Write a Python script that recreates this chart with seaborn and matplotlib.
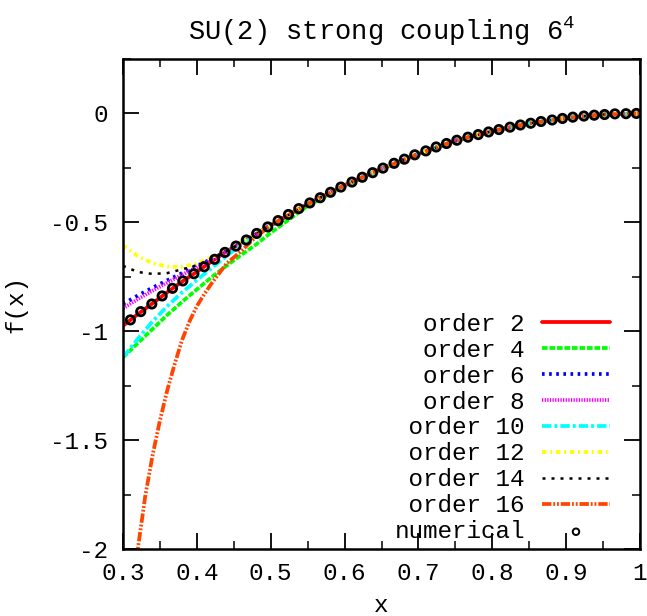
import numpy as np
import pandas as pd
import matplotlib
matplotlib.use("Agg")
import matplotlib.pyplot as plt
import seaborn as sns
from matplotlib.ticker import MultipleLocator

# ---------------- data ----------------
X_LINE = [0.30, 0.32, 0.34, 0.36, 0.38, 0.40, 0.42, 0.44, 0.46, 0.48,
          0.50, 0.55, 0.60, 0.65, 0.70, 0.75, 0.80, 0.85, 0.90, 0.95, 1.00]

ORDER2 = [-0.975, -0.922, -0.872, -0.821, -0.772, -0.727, -0.680, -0.634, -0.595, -0.555,
          -0.513, -0.416, -0.330, -0.254, -0.186, -0.125, -0.081, -0.046, -0.021, -0.005, 0.0]
ORDER4 = [-1.120, -1.055, -0.990, -0.925, -0.865, -0.808, -0.752, -0.700, -0.650, -0.602,
          -0.548, -0.425, -0.334, -0.255, -0.186, -0.125, -0.081, -0.046, -0.021, -0.005, 0.0]
ORDER6 = [-0.875, -0.836, -0.800, -0.766, -0.733, -0.700, -0.668, -0.632, -0.595, -0.554,
          -0.513, -0.416, -0.330, -0.254, -0.186, -0.125, -0.081, -0.046, -0.021, -0.005, 0.0]
ORDER8 = [-0.895, -0.853, -0.814, -0.777, -0.741, -0.706, -0.671, -0.634, -0.595, -0.554,
          -0.513, -0.416, -0.330, -0.254, -0.186, -0.125, -0.081, -0.046, -0.021, -0.005, 0.0]
ORDER10 = [-1.120, -1.035, -0.955, -0.885, -0.822, -0.765, -0.710, -0.655, -0.603, -0.557,
           -0.515, -0.416, -0.330, -0.254, -0.186, -0.125, -0.081, -0.046, -0.021, -0.005, 0.0]
ORDER12 = [-0.605, -0.655, -0.688, -0.703, -0.705, -0.688, -0.660, -0.630, -0.593, -0.554,
           -0.513, -0.416, -0.330, -0.254, -0.186, -0.125, -0.081, -0.046, -0.021, -0.005, 0.0]
ORDER14 = [-0.700, -0.728, -0.737, -0.733, -0.716, -0.697, -0.668, -0.633, -0.595, -0.554,
           -0.513, -0.416, -0.330, -0.254, -0.186, -0.125, -0.081, -0.046, -0.021, -0.005, 0.0]

X_ORDER16 = [0.318, 0.33, 0.34, 0.35, 0.36, 0.37, 0.38, 0.39, 0.40, 0.41, 0.42, 0.43, 0.44,
             0.46, 0.48, 0.50, 0.55, 0.60, 0.65, 0.70, 0.75, 0.80, 0.85, 0.90, 0.95, 1.00]
ORDER16 = [-2.05, -1.76, -1.57, -1.41, -1.27, -1.15, -1.04, -0.955, -0.885, -0.830, -0.780,
           -0.735, -0.690, -0.632, -0.566, -0.515, -0.416, -0.330, -0.254, -0.186, -0.125,
           -0.081, -0.046, -0.021, -0.005, 0.0]

X_NUM = [0.310, 0.324, 0.339, 0.353, 0.367, 0.381, 0.396, 0.410, 0.424, 0.438,
         0.453, 0.467, 0.481, 0.496, 0.510, 0.524, 0.538, 0.553, 0.567, 0.581,
         0.595, 0.610, 0.624, 0.638, 0.652, 0.667, 0.681, 0.695, 0.710, 0.724,
         0.738, 0.752, 0.767, 0.781, 0.795, 0.809, 0.824, 0.838, 0.852, 0.866,
         0.881, 0.895, 0.909, 0.924, 0.938, 0.952, 0.966, 0.981, 0.995]
F_NUM = [-0.948, -0.910, -0.875, -0.838, -0.803, -0.769, -0.736, -0.704, -0.670, -0.638,
         -0.609, -0.581, -0.551, -0.521, -0.492, -0.464, -0.437, -0.411, -0.387, -0.362,
         -0.338, -0.315, -0.293, -0.272, -0.251, -0.229, -0.210, -0.190, -0.172, -0.154,
         -0.138, -0.123, -0.109, -0.097, -0.085, -0.074, -0.063, -0.053, -0.045, -0.037,
         -0.030, -0.023, -0.017, -0.012, -0.008, -0.005, -0.002, -0.001, 0.000]

LABELS = ["order 2", "order 4", "order 6", "order 8", "order 10", "order 12", "order 14", "order 16"]
COLORS = ["#ff0000", "#00ff00", "#0000ff", "#ff00ff", "#00ffff", "#ffff00", "#000000", "#ff4500"]
STYLES = ["-", (0, (1.5, 0.5)), (0, (0.7, 1.2)), (0, (0.35, 0.35)), (0, (2.5, 0.8, 0.8, 0.8)),
          (0, (1.2, 1.0, 0.5, 1.0)), (0, (1.2, 2.4)), (0, (2.5, 0.5, 0.5, 0.5, 0.5, 0.5))]
WIDTHS = [2.7, 2.7, 2.7, 2.7, 2.7, 2.7, 1.8, 2.7]

series = [(X_LINE, ORDER2), (X_LINE, ORDER4), (X_LINE, ORDER6), (X_LINE, ORDER8),
          (X_LINE, ORDER10), (X_LINE, ORDER12), (X_LINE, ORDER14), (X_ORDER16, ORDER16)]

# ---------------- style ----------------
sns.set_style("ticks")
plt.rcParams["font.family"] = ["Liberation Mono", "DejaVu Sans"]
plt.rcParams["mathtext.fontset"] = "custom"
plt.rcParams["mathtext.rm"] = "Liberation Mono"
plt.rcParams["mathtext.it"] = "Liberation Mono"
plt.rcParams["text.color"] = "black"
plt.rcParams["axes.labelcolor"] = "black"

fig = plt.figure(figsize=(6.47, 6.16), dpi=100)
ax = fig.add_axes([123 / 647, 1 - 549 / 616, 517 / 647, 490 / 616])

for (xs, ys), lab, col, ls, lw in zip(series, LABELS, COLORS, STYLES, WIDTHS):
    df = pd.DataFrame({"x": xs, "f": ys})
    pad = " " * (9 - len(lab))
    sns.lineplot(data=df, x="x", y="f", ax=ax, color=col, linestyle=ls, linewidth=lw,
                 label=pad + lab, errorbar=None)

df_num = pd.DataFrame({"x": X_NUM, "f": F_NUM})
sns.scatterplot(data=df_num, x="x", y="f", ax=ax, marker="o", s=36, facecolor="none",
                edgecolor="black", linewidth=2.0, label="numerical", zorder=5)

ax.set_xlim(0.3, 1.0)
ax.set_ylim(-2.0, 0.25)
ax.xaxis.set_minor_locator(MultipleLocator(0.05))
ax.yaxis.set_minor_locator(MultipleLocator(0.25))
ax.set_xticks([0.3, 0.4, 0.5, 0.6, 0.7, 0.8, 0.9, 1.0])
ax.set_xticklabels(["0.3", "0.4", "0.5", "0.6", "0.7", "0.8", "0.9", "1"])
ax.set_yticks([-2, -1.5, -1, -0.5, 0])
ax.set_yticklabels(["-2", "-1.5", "-1", "-0.5", "0"])

ax.tick_params(which="major", direction="in", length=11.5, width=1.3, top=True, right=True,
               labelsize=17.5, colors="black")
ax.tick_params(axis="x", which="major", pad=9)
ax.tick_params(axis="y", which="major", pad=11)
ax.tick_params(which="minor", direction="in", length=5.8, width=1.3, top=True, right=True)
for sp in ax.spines.values():
    sp.set_visible(True)
    sp.set_linewidth(1.8)
    sp.set_color("black")

ax.set_xlabel("x", fontsize=17.5, labelpad=7)
ax.set_ylabel("f(x)", fontsize=17.5, labelpad=16)
ax.set_title("SU(2) strong coupling 6$^4$", fontsize=19.5, pad=14)

leg = ax.legend(loc="lower right", bbox_to_anchor=(0.942, 0.012), frameon=False,
                fontsize=17.5, handlelength=2.8, handletextpad=0.7, labelspacing=0.12,
                borderpad=0, borderaxespad=0, markerfirst=False)
num_handle = leg.legend_handles[-1]
num_handle.set_sizes([22])
num_handle.set_linewidth(1.4)

fig.savefig("out.png", dpi=100)
